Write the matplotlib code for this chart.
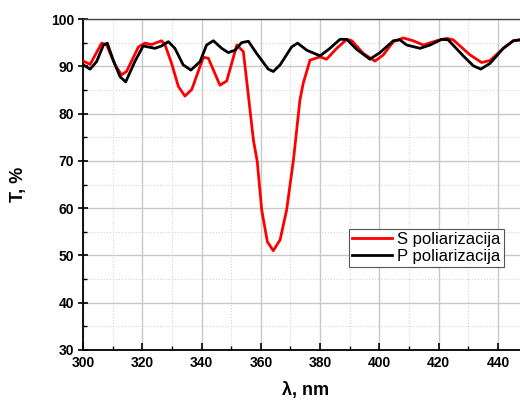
import matplotlib
matplotlib.use("Agg")
import matplotlib.pyplot as plt
from matplotlib.ticker import MultipleLocator

plt.rcParams['font.family'] = ['Liberation Sans', 'DejaVu Sans']

# S polarization (nm, T %)
s_wl = [300.1, 302.4, 306.3, 308.0, 310.8, 313.0, 314.7, 318.7, 320.9, 323.2,
        326.5, 327.7, 329.9, 332.2, 334.4, 336.7, 340.6, 342.3, 346.2, 348.5,
        351.9, 354.1, 355.2, 357.5, 358.8, 360.3, 362.2, 364.2, 366.5, 368.7,
        371.0, 373.2, 374.3, 376.6, 380.0, 382.2, 385.6, 389.0, 390.7, 394.6,
        398.5, 401.3, 404.7, 408.0, 411.4, 414.8, 419.3, 422.7, 424.9, 430.6,
        434.5, 437.3, 441.8, 445.2, 448.0]
s_t = [91.1, 90.4, 94.9, 94.5, 90.3, 88.2, 88.9, 94.1, 94.9, 94.6,
       95.4, 94.5, 90.6, 85.7, 83.7, 85.1, 91.9, 91.7, 86.0, 86.9,
       94.5, 93.1, 87.1, 74.4, 69.8, 59.6, 52.9, 51.0, 53.3, 59.6,
       70.2, 82.9, 86.4, 91.3, 92.0, 91.5, 93.8, 95.7, 95.4, 92.7,
       91.1, 92.4, 95.2, 96.0, 95.4, 94.5, 95.4, 95.9, 95.6, 92.4,
       90.8, 91.2, 93.8, 95.4, 95.7]

# P polarization (nm, T %)
p_wl = [300.1, 302.4, 304.6, 306.9, 308.2, 310.2, 312.5, 314.4, 317.5, 320.3,
        324.3, 326.5, 328.8, 331.0, 333.8, 336.4, 339.5, 341.7, 344.0, 346.8,
        349.0, 351.3, 353.5, 355.8, 358.6, 362.5, 364.2, 366.5, 370.4, 372.4,
        375.5, 380.0, 383.3, 386.7, 389.0, 392.3, 396.8, 400.2, 404.7, 406.9,
        409.2, 413.7, 417.1, 421.0, 423.2, 428.3, 431.7, 434.2, 437.3, 441.8,
        445.2, 448.0]
p_t = [90.3, 89.4, 91.0, 94.5, 94.9, 91.3, 87.8, 86.7, 91.0, 94.3,
       93.8, 94.3, 95.2, 93.8, 90.3, 89.2, 91.0, 94.5, 95.4, 93.8,
       92.9, 93.4, 95.0, 95.3, 92.7, 89.4, 88.9, 90.3, 94.1, 94.9,
       93.4, 92.2, 93.8, 95.7, 95.7, 93.6, 91.5, 92.9, 95.4, 95.6,
       94.5, 93.8, 94.5, 95.7, 95.6, 92.2, 90.1, 89.4, 90.6, 93.8,
       95.4, 95.6]

fig = plt.figure(figsize=(5.2, 4.01), dpi=100)
ax = fig.add_axes([0.1596, 0.1272, 0.855, 0.8254])

ax.plot(s_wl, s_t, color='#ff0000', lw=2.0, label='S poliarizacija', zorder=3)
ax.plot(p_wl, p_t, color='black', lw=2.0, label='P poliarizacija', zorder=3)

ax.set_xlim(300, 450)
ax.set_ylim(30, 100)
ax.xaxis.set_major_locator(MultipleLocator(20))
ax.xaxis.set_minor_locator(MultipleLocator(10))
ax.yaxis.set_major_locator(MultipleLocator(10))
ax.yaxis.set_minor_locator(MultipleLocator(5))

ax.grid(which='major', color='#c8c8c8', lw=1.0, ls='-', zorder=0)
ax.grid(which='minor', color='#d4d4d4', lw=0.8, ls=':', zorder=0)
ax.set_axisbelow(True)

ax.tick_params(axis='x', which='major', direction='in', length=5, width=1.2, pad=4)
ax.tick_params(axis='x', which='minor', direction='in', length=3, width=1.0)
ax.tick_params(axis='y', which='major', direction='inout', length=7, width=1.2, pad=3)
ax.tick_params(axis='y', which='minor', direction='in', length=3, width=1.0)
ax.tick_params(labelsize=10)
for lab in ax.get_xticklabels() + ax.get_yticklabels():
    lab.set_fontweight('bold')

for side in ['left', 'bottom']:
    ax.spines[side].set_linewidth(1.3)
ax.spines['top'].set_linewidth(1.0)
ax.spines['top'].set_color('#444444')

ax.set_xlabel('λ, nm', fontsize=13, fontweight='bold', labelpad=9)
ax.set_ylabel('T, %', fontsize=13, fontweight='bold', labelpad=17)

leg = ax.legend(loc='lower left', bbox_to_anchor=(0.598, 0.251), fontsize=12,
                fancybox=False, framealpha=1, edgecolor='#555555',
                borderpad=0.2, labelspacing=0.1, handlelength=2.4,
                handletextpad=0.3, borderaxespad=0)
leg.get_frame().set_linewidth(0.8)

fig.savefig('out.png', dpi=100)
